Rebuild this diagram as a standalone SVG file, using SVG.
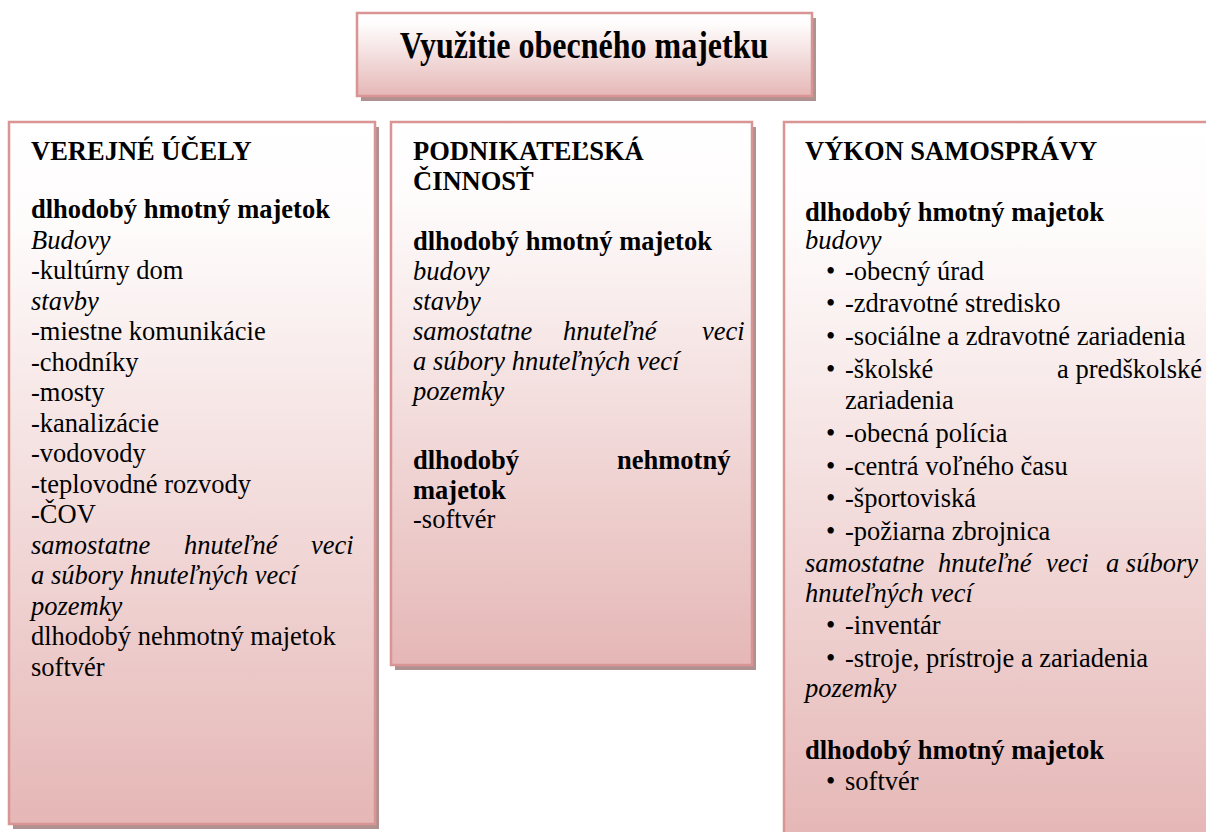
<svg xmlns="http://www.w3.org/2000/svg" width="1206" height="832" viewBox="0 0 1206 832">
<defs>
<linearGradient id="g" x1="0" y1="0" x2="0" y2="1">
<stop offset="0" stop-color="#ffffff"/>
<stop offset="0.15" stop-color="#fefbfb"/>
<stop offset="1" stop-color="#e5b7b6"/>
</linearGradient>
</defs>
<style>
.sh{fill:#b09192}
.bx{fill:url(#g);stroke:#d99594;stroke-width:2.5}
text{font-family:"Liberation Serif","Times New Roman",serif;font-size:26.5px;fill:#000}
.b{font-weight:bold}
.i{font-style:italic}
.t{font-size:32px;font-weight:bold}
</style>
<rect width="1206" height="832" fill="#ffffff"/>
<g id="connectors"></g>
<g id="title">
<rect class="sh" x="361" y="18" width="455" height="83"/>
<rect class="bx" x="357" y="13" width="455" height="83"/>
<text class="t" text-anchor="middle" transform="translate(584,58) scale(1,1.18)">Využitie obecného majetku</text>
</g>
<g id="verejne">
<rect class="sh" x="13" y="127" width="366" height="702"/>
<rect class="bx" x="9" y="122" width="366" height="702"/>
<text class="b" x="31" y="160">VEREJNÉ ÚČELY</text>
<text class="b" x="31" y="218">dlhodobý hmotný majetok</text>
<text class="i" x="31" y="248.5">Budovy</text>
<text x="31" y="279">-kultúrny dom</text>
<text class="i" x="31" y="309.5">stavby</text>
<text x="31" y="340">-miestne komunikácie</text>
<text x="31" y="370.5">-chodníky</text>
<text x="31" y="401">-mosty</text>
<text x="31" y="431.5">-kanalizácie</text>
<text x="31" y="462">-vodovody</text>
<text x="31" y="492.5">-teplovodné rozvody</text>
<text x="31" y="523">-ČOV</text>
<text class="i" y="553.5"><tspan x="31">samostatne</tspan><tspan x="184">hnuteľné</tspan><tspan x="311">veci</tspan></text>
<text class="i" x="31" y="584">a súbory hnuteľných vecí</text>
<text class="i" x="31" y="614.5">pozemky</text>
<text x="31" y="645">dlhodobý nehmotný majetok</text>
<text x="31" y="675.5">softvér</text>
</g>
<g id="podnikatelska">
<rect class="sh" x="395" y="127" width="361" height="543"/>
<rect class="bx" x="391" y="122" width="361" height="543"/>
<text class="b" x="413" y="160">PODNIKATEĽSKÁ</text>
<text class="b" x="413" y="190">ČINNOSŤ</text>
<text class="b" x="413" y="250">dlhodobý hmotný majetok</text>
<text class="i" x="413" y="280">budovy</text>
<text class="i" x="413" y="310">stavby</text>
<text class="i" y="340"><tspan x="413">samostatne</tspan><tspan x="563">hnuteľné</tspan><tspan x="702">veci</tspan></text>
<text class="i" x="413" y="370">a súbory hnuteľných vecí</text>
<text class="i" x="413" y="400">pozemky</text>
<text class="b" y="469"><tspan x="413">dlhodobý</tspan><tspan x="617">nehmotný</tspan></text>
<text class="b" x="413" y="499">majetok</text>
<text x="413" y="528">-softvér</text>
</g>
<g id="vykon">
<rect class="sh" x="788" y="127" width="430" height="720"/>
<rect class="bx" x="784" y="122" width="430" height="720"/>
<text class="b" x="805" y="160">VÝKON SAMOSPRÁVY</text>
<text class="b" x="805" y="221">dlhodobý hmotný majetok</text>
<text class="i" x="805" y="249">budovy</text>
<text x="826" y="280">•</text><text x="845" y="280">-obecný úrad</text>
<text x="826" y="312">•</text><text x="845" y="312">-zdravotné stredisko</text>
<text x="826" y="345">•</text><text x="845" y="345">-sociálne a zdravotné zariadenia</text>
<text x="826" y="378">•</text><text y="378"><tspan x="845">-školské</tspan><tspan x="1202" text-anchor="end">a predškolské</tspan></text>
<text x="845" y="409">zariadenia</text>
<text x="826" y="442">•</text><text x="845" y="442">-obecná polícia</text>
<text x="826" y="475">•</text><text x="845" y="475">-centrá voľného času</text>
<text x="826" y="507">•</text><text x="845" y="507">-športoviská</text>
<text x="826" y="540">•</text><text x="845" y="540">-požiarna zbrojnica</text>
<text class="i" y="572"><tspan x="805">samostatne</tspan><tspan x="938">hnuteľné</tspan><tspan x="1046">veci</tspan><tspan x="1198" text-anchor="end">a súbory</tspan></text>
<text class="i" x="805" y="602">hnuteľných vecí</text>
<text x="826" y="634">•</text><text x="845" y="634">-inventár</text>
<text x="826" y="667">•</text><text x="845" y="667">-stroje, prístroje a zariadenia</text>
<text class="i" x="805" y="697">pozemky</text>
<text class="b" x="805" y="759">dlhodobý hmotný majetok</text>
<text x="826" y="790">•</text><text x="845" y="790">softvér</text>
</g>
</svg>
